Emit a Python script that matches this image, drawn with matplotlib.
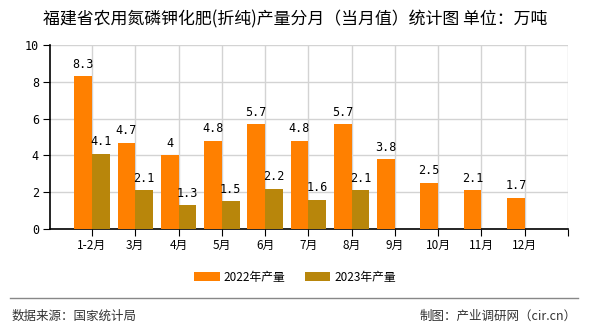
import matplotlib.pyplot as plt
import numpy as np

plt.rcParams["font.family"] = ["Noto Sans CJK SC", "DejaVu Sans"]

# Monthly output, 10k tonnes
months = ["1-2月", "3月", "4月", "5月", "6月", "7月", "8月", "9月", "10月", "11月", "12月"]
output_2022 = [8.3, 4.7, 4.0, 4.8, 5.7, 4.8, 5.7, 3.8, 2.5, 2.1, 1.7]
output_2023 = [4.1, 2.1, 1.3, 1.5, 2.2, 1.6, 2.1]

COLOR_2022 = "#FF8000"
COLOR_2023 = "#B8860B"
BAR_W = 0.41


def fmt(v):
    return f"{v:g}"


fig = plt.figure(figsize=(5.9, 3.3), dpi=100)
ax = fig.add_axes([50 / 590, 101 / 330, 518 / 590, 184 / 330])

x22 = np.arange(len(output_2022))
x23 = np.arange(len(output_2023))
b22 = ax.bar(x22, output_2022, width=-BAR_W, align="edge", color=COLOR_2022,
             label="2022年产量", zorder=3)
b23 = ax.bar(x23, output_2023, width=BAR_W, align="edge", color=COLOR_2023,
             label="2023年产量", zorder=3)

for bars, vals in ((b22, output_2022), (b23, output_2023)):
    for rect, v in zip(bars, vals):
        ax.annotate(fmt(v), (rect.get_x() + rect.get_width() / 2, v),
                    xytext=(0, 4), textcoords="offset points",
                    ha="center", va="bottom", fontsize=8.5,
                    family="DejaVu Sans Mono", zorder=4)

ax.set_xlim(-0.97, 11)
ax.set_ylim(0, 10)
ax.set_yticks([0, 2, 4, 6, 8, 10])
ax.set_xticks(np.arange(12))
ax.set_xticklabels(months + [""], fontsize=8.5)
ax.tick_params(axis="y", labelsize=8.5, length=5, direction="out", pad=3)
ax.tick_params(axis="x", length=5, direction="out", pad=2)
for lbl in ax.get_yticklabels():
    lbl.set_family("DejaVu Sans Mono")

ax.grid(True, color="#d3d3d3", linewidth=1, zorder=0)
for side in ("top", "right"):
    ax.spines[side].set_visible(False)
for side in ("left", "bottom"):
    ax.spines[side].set_color("black")
    ax.spines[side].set_linewidth(1.2)

fig.text(0.5, 1 - 19 / 330, "福建省农用氮磷钾化肥(折纯)产量分月（当月值）统计图 单位：万吨",
         ha="center", va="center", fontsize=12.2)

fig.legend(handles=[b22, b23], loc="center", bbox_to_anchor=(0.5, 1 - 277 / 330),
           ncol=2, frameon=False, fontsize=8.5, handlelength=2.2, handleheight=0.9,
           handletextpad=0.3, columnspacing=1.6)

fig.add_artist(plt.Line2D([10 / 590, 578 / 590], [1 - 298 / 330] * 2,
                          color="#888888", linewidth=1))
fig.text(12 / 590, 1 - 316 / 330, "数据来源：国家统计局", ha="left", va="center",
         fontsize=9, color="#333333")
fig.text(577 / 590, 1 - 316 / 330, "制图：产业调研网（cir.cn）", ha="right", va="center",
         fontsize=9, color="#333333")

fig.savefig("out.png", dpi=100)
